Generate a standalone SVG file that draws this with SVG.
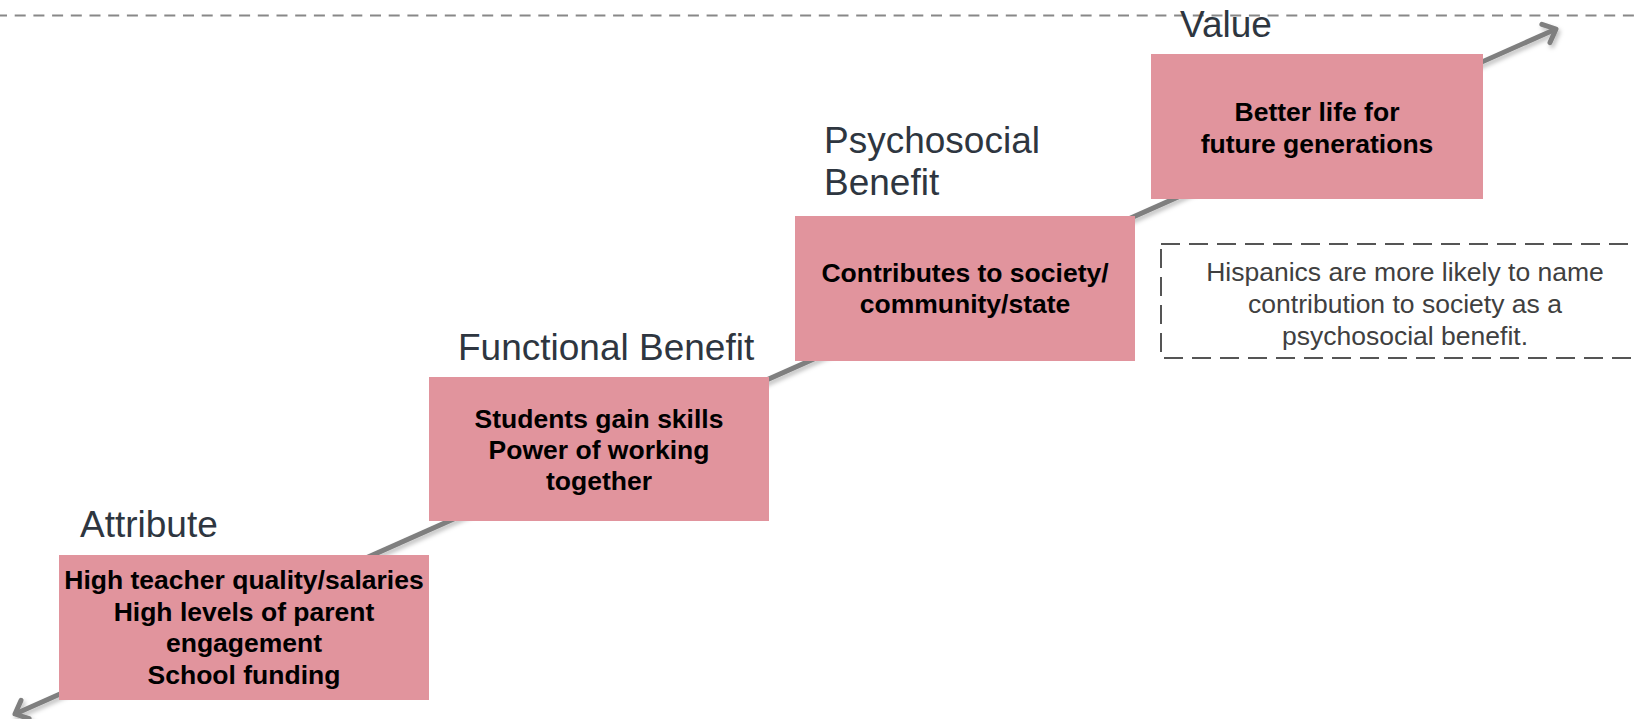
<svg xmlns="http://www.w3.org/2000/svg" width="1635" height="719" viewBox="0 0 1635 719">
<style>
.box{fill:#e1949d;}
.lbl{font-family:"Liberation Sans",Arial,sans-serif;font-size:37px;fill:#2e3640;}
.bt{font-family:"Liberation Sans",Arial,sans-serif;font-size:26.5px;font-weight:bold;fill:#000;text-anchor:middle;}
.note{font-family:"Liberation Sans",Arial,sans-serif;font-size:26.5px;fill:#404040;text-anchor:middle;}
</style>
<defs>
<marker id="chev" viewBox="-14 -14 28 28" markerWidth="28" markerHeight="28" refX="0" refY="0" orient="auto-start-reverse" markerUnits="userSpaceOnUse">
<path d="M-11,-10 L0,0 L-11,10" fill="none" stroke="#7f7f7f" stroke-width="5" stroke-linecap="round" stroke-linejoin="round"/>
</marker>
<filter id="sh" x="-5%" y="-5%" width="110%" height="110%">
<feDropShadow dx="2" dy="3" stdDeviation="2" flood-color="#000" flood-opacity="0.25"/>
</filter>
</defs>
<line x1="0" y1="15.5" x2="1635" y2="15.5" stroke="#888" stroke-width="2.2" stroke-dasharray="11 7.7" stroke-dashoffset="4"/>
<g id="connectors">
<line x1="15" y1="714" x2="1556" y2="29" stroke="#7f7f7f" stroke-width="5" marker-start="url(#chev)" marker-end="url(#chev)" filter="url(#sh)"/>
</g>
<g id="value">
<text class="lbl" x="1180" y="37">Value</text>
<rect class="box" x="1151" y="54" width="332" height="145"/>
<text class="bt" x="1317" y="121">Better life for</text>
<text class="bt" x="1317" y="153">future generations</text>
</g>
<g id="psychosocial">
<text class="lbl" x="824" y="153">Psychosocial</text>
<text class="lbl" x="824" y="195">Benefit</text>
<rect class="box" x="795" y="216" width="340" height="145"/>
<text class="bt" x="965" y="282">Contributes to society/</text>
<text class="bt" x="965" y="313">community/state</text>
</g>
<g id="functional">
<text class="lbl" x="458" y="360">Functional Benefit</text>
<rect class="box" x="429" y="377" width="340" height="144"/>
<text class="bt" x="599" y="428">Students gain skills</text>
<text class="bt" x="599" y="459">Power of working </text>
<text class="bt" x="599" y="490">together</text>
</g>
<g id="attribute">
<text class="lbl" x="80" y="537">Attribute</text>
<rect class="box" x="59" y="555" width="370" height="145"/>
<text class="bt" x="244" y="589">High teacher quality/salaries</text>
<text class="bt" x="244" y="621">High levels of parent</text>
<text class="bt" x="244" y="652">engagement</text>
<text class="bt" x="244" y="684">School funding</text>
</g>
<g id="note">
<rect x="1161" y="244" width="500" height="114" fill="none" stroke="#555" stroke-width="2" stroke-dasharray="19 9"/>
<text class="note" x="1405" y="281">Hispanics are more likely to name</text>
<text class="note" x="1405" y="313">contribution to society as a</text>
<text class="note" x="1405" y="345">psychosocial benefit.</text>
</g>
</svg>
